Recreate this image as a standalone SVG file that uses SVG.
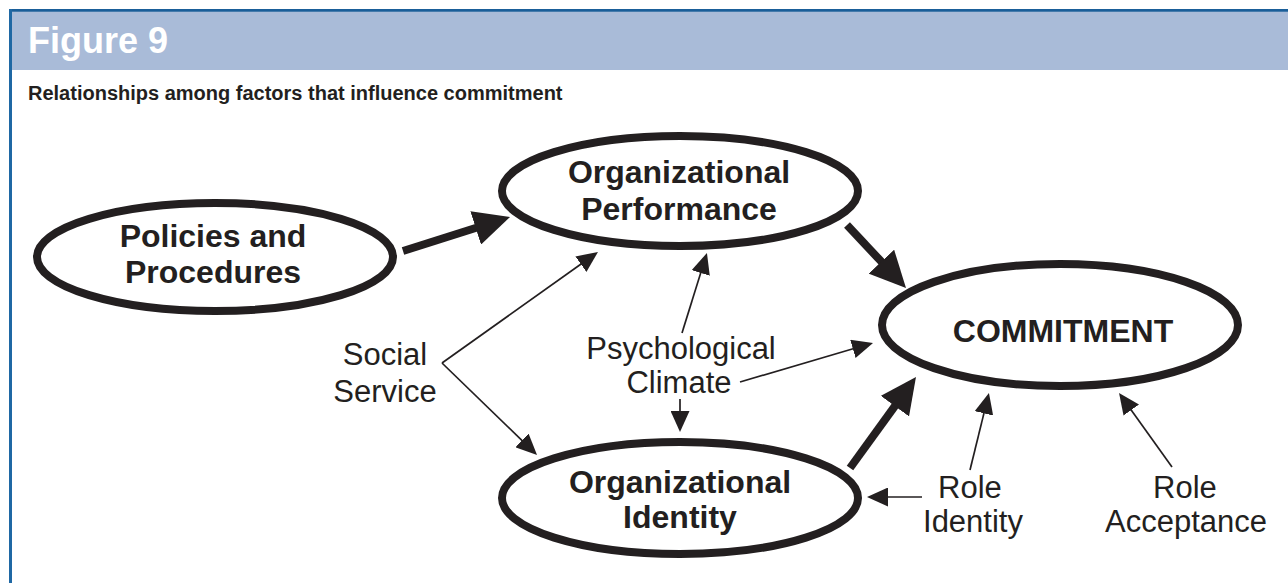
<svg xmlns="http://www.w3.org/2000/svg" width="1288" height="583" viewBox="0 0 1288 583">
<style>
.node{fill:#fff;stroke:#231f20;stroke-width:8}
.nl{font-family:"Liberation Sans",Arial,sans-serif;font-weight:bold;font-size:32px;fill:#231f20;text-anchor:middle}
.lb{font-family:"Liberation Sans",Arial,sans-serif;font-size:31px;fill:#231f20;text-anchor:middle}
.thick{stroke:#231f20;stroke-width:8;fill:none;marker-end:url(#hb)}
.thin{stroke:#231f20;stroke-width:1.7;fill:none;marker-end:url(#hs)}
</style>
<defs>
<marker id="hb" markerUnits="userSpaceOnUse" markerWidth="36" markerHeight="35" refX="4" refY="17.5" orient="auto" viewBox="0 0 36 35">
<path d="M0,0 L36,17.5 L0,35 z" fill="#231f20"/>
</marker>
<marker id="hs" markerUnits="userSpaceOnUse" markerWidth="21" markerHeight="19" refX="2" refY="9.5" orient="auto" viewBox="0 0 21 19">
<path d="M0,0 L21,9.5 L0,19 z" fill="#231f20"/>
</marker>
</defs>
<rect x="0" y="0" width="1288" height="583" fill="#fff"/>
<g id="frame">
<rect x="11" y="10" width="1277" height="60" fill="#a9bbd8"/>
<rect x="9" y="9" width="1279" height="2.7" fill="#1a5e99"/>
<rect x="9" y="9" width="3" height="574" fill="#1f68a4"/>
<text x="28" y="53" font-family="'Liberation Sans',Arial,sans-serif" font-weight="bold" font-size="36" fill="#fff">Figure 9</text>
<text x="28" y="100" font-family="'Liberation Sans',Arial,sans-serif" font-weight="bold" font-size="20" fill="#231f20">Relationships among factors that influence commitment</text>
</g>
<g id="connectors">
<line class="thick" x1="403" y1="251" x2="479.5" y2="226.7"/>
<line class="thick" x1="847" y1="225" x2="884.1" y2="264.6"/>
<line class="thick" x1="850" y1="468" x2="897.2" y2="402.9"/>
<line class="thin" x1="442" y1="363" x2="582.5" y2="263"/>
<line class="thin" x1="442" y1="363" x2="523.4" y2="441.8"/>
<line class="thin" x1="682" y1="333" x2="701.3" y2="271.1"/>
<line class="thin" x1="740" y1="382" x2="854.8" y2="348.3"/>
<line class="thin" x1="680" y1="399" x2="680" y2="413"/>
<line class="thin" x1="922" y1="497" x2="886" y2="497"/>
<line class="thin" x1="970" y1="470" x2="984.4" y2="411.4"/>
<line class="thin" x1="1172" y1="467" x2="1130.1" y2="408.4"/>
</g>
<g id="policies">
<ellipse class="node" cx="215" cy="257" rx="178" ry="54"/>
<text class="nl" x="213" y="247">Policies and</text>
<text class="nl" x="213" y="283">Procedures</text>
</g>
<g id="performance">
<ellipse class="node" cx="680" cy="191" rx="178" ry="55"/>
<text class="nl" x="679" y="183">Organizational</text>
<text class="nl" x="679" y="220">Performance</text>
</g>
<g id="commitment">
<ellipse class="node" cx="1060" cy="325" rx="178" ry="61"/>
<text class="nl" x="1063" y="342">COMMITMENT</text>
</g>
<g id="identity">
<ellipse class="node" cx="680" cy="498" rx="178" ry="56"/>
<text class="nl" x="680" y="493">Organizational</text>
<text class="nl" x="680" y="528">Identity</text>
</g>
<g id="social-service">
<text class="lb" x="385" y="365">Social</text>
<text class="lb" x="385" y="402">Service</text>
</g>
<g id="psychological-climate">
<text class="lb" x="681" y="359">Psychological</text>
<text class="lb" x="679" y="393">Climate</text>
</g>
<g id="role-identity">
<text class="lb" x="970" y="498">Role</text>
<text class="lb" x="973" y="532">Identity</text>
</g>
<g id="role-acceptance">
<text class="lb" x="1185" y="498">Role</text>
<text class="lb" x="1186" y="532">Acceptance</text>
</g>
</svg>
